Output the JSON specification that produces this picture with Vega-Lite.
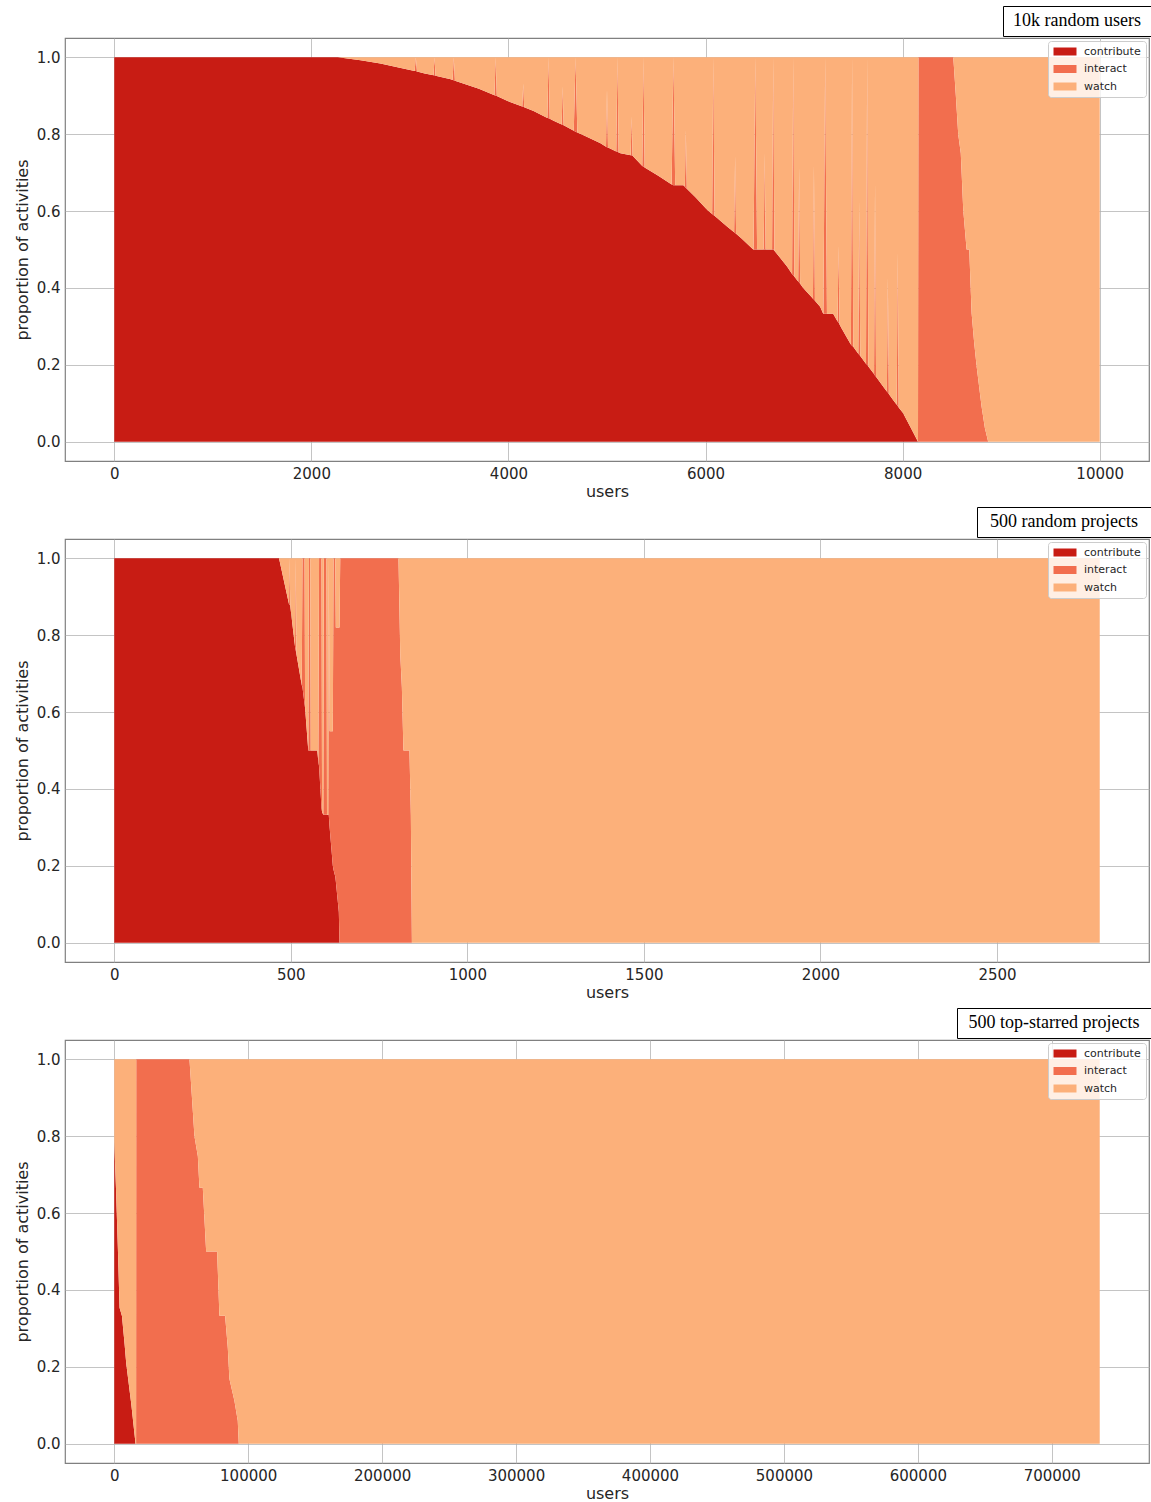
{
  "$schema": "https://vega.github.io/schema/vega-lite/v6.json",
  "padding": {"left": 13, "top": 5, "right": 2, "bottom": 0},
  "background": "white",
  "config": {
    "font": "DejaVu Sans",
    "view": {"stroke": "#808080", "strokeWidth": 1.2},
    "axis": {"domain": false, "ticks": false, "grid": true, "gridColor": "#b0b0b0", "gridOpacity": 0.75, "gridWidth": 1, "labelFont": "DejaVu Sans", "labelFontSize": 15, "labelColor": "#262626", "labelPadding": 5, "titleFont": "DejaVu Sans", "titleFontSize": 16, "titleFontWeight": "normal", "titleColor": "#262626", "zindex": 1},
    "axisY": {"titlePadding": 6},
    "axisX": {"titlePadding": 2},
    "legend": {"orient": "top-right", "offset": 3, "labelFont": "DejaVu Sans", "labelFontSize": 11, "labelColor": "#262626", "symbolType": "M-1,-0.8H3.6V0.8H-1Z", "symbolSize": 100, "symbolStrokeWidth": 0, "symbolOpacity": 1, "labelOffset": 20, "rowPadding": 5.5, "padding": 5, "fillColor": "rgba(255,255,255,0.8)", "strokeColor": "#cccccc", "cornerRadius": 3, "zindex": 2}
  },
  "datasets": {
    "p1": [
      {"x": 0, "contribute": 1, "interact": 0, "watch": 0},
      {"x": 2269, "contribute": 1, "interact": 0, "watch": 0},
      {"x": 2500, "contribute": 0.992, "interact": 0, "watch": 0.008},
      {"x": 2700, "contribute": 0.984, "interact": 0, "watch": 0.016},
      {"x": 2908, "contribute": 0.972, "interact": 0, "watch": 0.028},
      {"x": 3048, "contribute": 0.964, "interact": 0, "watch": 0.036},
      {"x": 3060, "contribute": 0.964, "interact": 0.036, "watch": 0},
      {"x": 3072, "contribute": 0.963, "interact": 0, "watch": 0.037},
      {"x": 3150, "contribute": 0.958, "interact": 0, "watch": 0.042},
      {"x": 3240, "contribute": 0.953, "interact": 0, "watch": 0.047},
      {"x": 3250, "contribute": 0.953, "interact": 0.047, "watch": 0},
      {"x": 3260, "contribute": 0.952, "interact": 0, "watch": 0.048},
      {"x": 3414, "contribute": 0.943, "interact": 0, "watch": 0.057},
      {"x": 3433, "contribute": 0.941, "interact": 0, "watch": 0.059},
      {"x": 3445, "contribute": 0.94, "interact": 0.06, "watch": 0},
      {"x": 3457, "contribute": 0.939, "interact": 0, "watch": 0.061},
      {"x": 3700, "contribute": 0.918, "interact": 0, "watch": 0.082},
      {"x": 3858, "contribute": 0.901, "interact": 0, "watch": 0.099},
      {"x": 3870, "contribute": 0.9, "interact": 0.1, "watch": 0},
      {"x": 3882, "contribute": 0.899, "interact": 0, "watch": 0.101},
      {"x": 4002, "contribute": 0.885, "interact": 0, "watch": 0.115},
      {"x": 4140, "contribute": 0.872, "interact": 0, "watch": 0.128},
      {"x": 4150, "contribute": 0.871, "interact": 0.06, "watch": 0.069},
      {"x": 4160, "contribute": 0.87, "interact": 0, "watch": 0.13},
      {"x": 4255, "contribute": 0.86, "interact": 0, "watch": 0.14},
      {"x": 4395, "contribute": 0.842, "interact": 0, "watch": 0.158},
      {"x": 4407, "contribute": 0.841, "interact": 0.159, "watch": 0},
      {"x": 4419, "contribute": 0.84, "interact": 0, "watch": 0.16},
      {"x": 4458, "contribute": 0.835, "interact": 0, "watch": 0.165},
      {"x": 4540, "contribute": 0.825, "interact": 0, "watch": 0.175},
      {"x": 4550, "contribute": 0.824, "interact": 0.1, "watch": 0.076},
      {"x": 4560, "contribute": 0.823, "interact": 0, "watch": 0.177},
      {"x": 4663, "contribute": 0.809, "interact": 0, "watch": 0.191},
      {"x": 4681, "contribute": 0.806, "interact": 0.194, "watch": 0},
      {"x": 4699, "contribute": 0.804, "interact": 0, "watch": 0.196},
      {"x": 4762, "contribute": 0.797, "interact": 0, "watch": 0.203},
      {"x": 4934, "contribute": 0.776, "interact": 0, "watch": 0.224},
      {"x": 4990, "contribute": 0.767, "interact": 0, "watch": 0.233},
      {"x": 5000, "contribute": 0.766, "interact": 0.15, "watch": 0.084},
      {"x": 5010, "contribute": 0.765, "interact": 0, "watch": 0.235},
      {"x": 5094, "contribute": 0.755, "interact": 0, "watch": 0.245},
      {"x": 5106, "contribute": 0.754, "interact": 0.246, "watch": 0},
      {"x": 5118, "contribute": 0.752, "interact": 0, "watch": 0.248},
      {"x": 5137, "contribute": 0.75, "interact": 0, "watch": 0.25},
      {"x": 5240, "contribute": 0.745, "interact": 0, "watch": 0.255},
      {"x": 5250, "contribute": 0.745, "interact": 0.1, "watch": 0.155},
      {"x": 5260, "contribute": 0.744, "interact": 0, "watch": 0.256},
      {"x": 5358, "contribute": 0.717, "interact": 0, "watch": 0.283},
      {"x": 5370, "contribute": 0.715, "interact": 0.285, "watch": 0},
      {"x": 5382, "contribute": 0.713, "interact": 0, "watch": 0.287},
      {"x": 5520, "contribute": 0.692, "interact": 0, "watch": 0.308},
      {"x": 5656, "contribute": 0.669, "interact": 0, "watch": 0.331},
      {"x": 5674, "contribute": 0.667, "interact": 0.333, "watch": 0},
      {"x": 5692, "contribute": 0.667, "interact": 0, "watch": 0.333},
      {"x": 5775, "contribute": 0.667, "interact": 0, "watch": 0.333},
      {"x": 5790, "contribute": 0.663, "interact": 0, "watch": 0.337},
      {"x": 5800, "contribute": 0.66, "interact": 0.15, "watch": 0.19},
      {"x": 5810, "contribute": 0.658, "interact": 0, "watch": 0.342},
      {"x": 5900, "contribute": 0.635, "interact": 0, "watch": 0.365},
      {"x": 6018, "contribute": 0.603, "interact": 0, "watch": 0.397},
      {"x": 6067, "contribute": 0.592, "interact": 0, "watch": 0.408},
      {"x": 6079, "contribute": 0.59, "interact": 0.41, "watch": 0},
      {"x": 6091, "contribute": 0.588, "interact": 0, "watch": 0.412},
      {"x": 6221, "contribute": 0.559, "interact": 0, "watch": 0.441},
      {"x": 6290, "contribute": 0.545, "interact": 0, "watch": 0.455},
      {"x": 6300, "contribute": 0.543, "interact": 0.2, "watch": 0.257},
      {"x": 6310, "contribute": 0.541, "interact": 0, "watch": 0.459},
      {"x": 6360, "contribute": 0.53, "interact": 0, "watch": 0.47},
      {"x": 6484, "contribute": 0.5, "interact": 0, "watch": 0.5},
      {"x": 6487, "contribute": 0.5, "interact": 0, "watch": 0.5},
      {"x": 6505, "contribute": 0.5, "interact": 0.5, "watch": 0},
      {"x": 6523, "contribute": 0.5, "interact": 0, "watch": 0.5},
      {"x": 6590, "contribute": 0.5, "interact": 0, "watch": 0.5},
      {"x": 6600, "contribute": 0.5, "interact": 0.25, "watch": 0.25},
      {"x": 6610, "contribute": 0.5, "interact": 0, "watch": 0.5},
      {"x": 6675, "contribute": 0.5, "interact": 0, "watch": 0.5},
      {"x": 6687, "contribute": 0.5, "interact": 0.5, "watch": 0},
      {"x": 6699, "contribute": 0.497, "interact": 0, "watch": 0.503},
      {"x": 6829, "contribute": 0.455, "interact": 0, "watch": 0.545},
      {"x": 6878, "contribute": 0.436, "interact": 0, "watch": 0.564},
      {"x": 6890, "contribute": 0.433, "interact": 0.567, "watch": 0},
      {"x": 6902, "contribute": 0.429, "interact": 0, "watch": 0.571},
      {"x": 6940, "contribute": 0.417, "interact": 0, "watch": 0.583},
      {"x": 6950, "contribute": 0.414, "interact": 0.3, "watch": 0.286},
      {"x": 6960, "contribute": 0.411, "interact": 0, "watch": 0.589},
      {"x": 6991, "contribute": 0.4, "interact": 0, "watch": 0.6},
      {"x": 7080, "contribute": 0.375, "interact": 0, "watch": 0.625},
      {"x": 7090, "contribute": 0.372, "interact": 0, "watch": 0.628},
      {"x": 7100, "contribute": 0.37, "interact": 0.35, "watch": 0.28},
      {"x": 7110, "contribute": 0.367, "interact": 0, "watch": 0.633},
      {"x": 7163, "contribute": 0.351, "interact": 0, "watch": 0.649},
      {"x": 7194, "contribute": 0.333, "interact": 0, "watch": 0.667},
      {"x": 7196, "contribute": 0.333, "interact": 0, "watch": 0.667},
      {"x": 7214, "contribute": 0.333, "interact": 0.667, "watch": 0},
      {"x": 7232, "contribute": 0.333, "interact": 0, "watch": 0.667},
      {"x": 7295, "contribute": 0.333, "interact": 0, "watch": 0.667},
      {"x": 7340, "contribute": 0.313, "interact": 0, "watch": 0.687},
      {"x": 7350, "contribute": 0.31, "interact": 0.2, "watch": 0.49},
      {"x": 7360, "contribute": 0.305, "interact": 0, "watch": 0.695},
      {"x": 7380, "contribute": 0.295, "interact": 0, "watch": 0.705},
      {"x": 7467, "contribute": 0.256, "interact": 0, "watch": 0.744},
      {"x": 7475, "contribute": 0.253, "interact": 0, "watch": 0.747},
      {"x": 7487, "contribute": 0.25, "interact": 0.75, "watch": 0},
      {"x": 7499, "contribute": 0.247, "interact": 0, "watch": 0.753},
      {"x": 7550, "contribute": 0.229, "interact": 0, "watch": 0.771},
      {"x": 7560, "contribute": 0.226, "interact": 0.4, "watch": 0.374},
      {"x": 7570, "contribute": 0.223, "interact": 0, "watch": 0.777},
      {"x": 7628, "contribute": 0.203, "interact": 0, "watch": 0.797},
      {"x": 7640, "contribute": 0.2, "interact": 0.8, "watch": 0},
      {"x": 7652, "contribute": 0.196, "interact": 0, "watch": 0.804},
      {"x": 7710, "contribute": 0.176, "interact": 0, "watch": 0.824},
      {"x": 7720, "contribute": 0.172, "interact": 0.5, "watch": 0.328},
      {"x": 7730, "contribute": 0.169, "interact": 0, "watch": 0.831},
      {"x": 7802, "contribute": 0.144, "interact": 0, "watch": 0.856},
      {"x": 7840, "contribute": 0.131, "interact": 0, "watch": 0.869},
      {"x": 7850, "contribute": 0.128, "interact": 0.3, "watch": 0.572},
      {"x": 7860, "contribute": 0.124, "interact": 0, "watch": 0.876},
      {"x": 7900, "contribute": 0.11, "interact": 0, "watch": 0.89},
      {"x": 7940, "contribute": 0.096, "interact": 0, "watch": 0.904},
      {"x": 7950, "contribute": 0.093, "interact": 0.4, "watch": 0.507},
      {"x": 7960, "contribute": 0.089, "interact": 0, "watch": 0.911},
      {"x": 8004, "contribute": 0.075, "interact": 0, "watch": 0.925},
      {"x": 8080, "contribute": 0.038, "interact": 0, "watch": 0.962},
      {"x": 8156, "contribute": 0, "interact": 0, "watch": 1},
      {"x": 8160, "contribute": 0, "interact": 1, "watch": 0},
      {"x": 8514, "contribute": 0, "interact": 1, "watch": 0},
      {"x": 8540, "contribute": 0, "interact": 0.9, "watch": 0.1},
      {"x": 8564, "contribute": 0, "interact": 0.8, "watch": 0.2},
      {"x": 8590, "contribute": 0, "interact": 0.75, "watch": 0.25},
      {"x": 8615, "contribute": 0, "interact": 0.603, "watch": 0.397},
      {"x": 8649, "contribute": 0, "interact": 0.5, "watch": 0.5},
      {"x": 8676, "contribute": 0, "interact": 0.5, "watch": 0.5},
      {"x": 8700, "contribute": 0, "interact": 0.334, "watch": 0.666},
      {"x": 8725, "contribute": 0, "interact": 0.26, "watch": 0.74},
      {"x": 8751, "contribute": 0, "interact": 0.196, "watch": 0.804},
      {"x": 8801, "contribute": 0, "interact": 0.092, "watch": 0.908},
      {"x": 8835, "contribute": 0, "interact": 0.035, "watch": 0.965},
      {"x": 8868, "contribute": 0, "interact": 0, "watch": 1},
      {"x": 10000, "contribute": 0, "interact": 0, "watch": 1}
    ],
    "p2": [
      {"x": 0, "contribute": 1, "interact": 0, "watch": 0},
      {"x": 466.6, "contribute": 1, "interact": 0, "watch": 0},
      {"x": 495, "contribute": 0.88, "interact": 0, "watch": 0.12},
      {"x": 496.5, "contribute": 0.88, "interact": 0.12, "watch": 0},
      {"x": 498.5, "contribute": 0.875, "interact": 0, "watch": 0.125},
      {"x": 512, "contribute": 0.77, "interact": 0, "watch": 0.23},
      {"x": 514, "contribute": 0.76, "interact": 0.24, "watch": 0},
      {"x": 516, "contribute": 0.75, "interact": 0, "watch": 0.25},
      {"x": 531, "contribute": 0.67, "interact": 0, "watch": 0.33},
      {"x": 533, "contribute": 0.665, "interact": 0.335, "watch": 0},
      {"x": 539, "contribute": 0.62, "interact": 0.38, "watch": 0},
      {"x": 540.5, "contribute": 0.61, "interact": 0, "watch": 0.39},
      {"x": 549.5, "contribute": 0.5, "interact": 0, "watch": 0.5},
      {"x": 551.5, "contribute": 0.5, "interact": 0.5, "watch": 0},
      {"x": 555, "contribute": 0.5, "interact": 0.5, "watch": 0},
      {"x": 556.5, "contribute": 0.5, "interact": 0, "watch": 0.5},
      {"x": 575, "contribute": 0.5, "interact": 0, "watch": 0.5},
      {"x": 578, "contribute": 0.47, "interact": 0, "watch": 0.53},
      {"x": 580, "contribute": 0.46, "interact": 0.54, "watch": 0},
      {"x": 587, "contribute": 0.35, "interact": 0.65, "watch": 0},
      {"x": 588.5, "contribute": 0.34, "interact": 0, "watch": 0.66},
      {"x": 592, "contribute": 0.333, "interact": 0, "watch": 0.667},
      {"x": 593.5, "contribute": 0.333, "interact": 0.667, "watch": 0},
      {"x": 601, "contribute": 0.333, "interact": 0.667, "watch": 0},
      {"x": 602.5, "contribute": 0.333, "interact": 0, "watch": 0.667},
      {"x": 606, "contribute": 0.333, "interact": 0, "watch": 0.667},
      {"x": 607.5, "contribute": 0.333, "interact": 0.667, "watch": 0},
      {"x": 610, "contribute": 0.3, "interact": 0.25, "watch": 0.45},
      {"x": 619, "contribute": 0.2, "interact": 0.35, "watch": 0.45},
      {"x": 621, "contribute": 0.19, "interact": 0.81, "watch": 0},
      {"x": 626, "contribute": 0.172, "interact": 0.828, "watch": 0},
      {"x": 627.5, "contribute": 0.16, "interact": 0.66, "watch": 0.18},
      {"x": 636, "contribute": 0.08, "interact": 0.74, "watch": 0.18},
      {"x": 638, "contribute": 0, "interact": 0.82, "watch": 0.18},
      {"x": 640, "contribute": 0, "interact": 1, "watch": 0},
      {"x": 805, "contribute": 0, "interact": 1, "watch": 0},
      {"x": 810, "contribute": 0, "interact": 0.75, "watch": 0.25},
      {"x": 814.5, "contribute": 0, "interact": 0.666, "watch": 0.334},
      {"x": 819, "contribute": 0, "interact": 0.5, "watch": 0.5},
      {"x": 836, "contribute": 0, "interact": 0.5, "watch": 0.5},
      {"x": 840, "contribute": 0, "interact": 0.333, "watch": 0.667},
      {"x": 843, "contribute": 0, "interact": 0, "watch": 1},
      {"x": 2791, "contribute": 0, "interact": 0, "watch": 1}
    ],
    "p3": [
      {"x": 0, "contribute": 0.787, "interact": 0, "watch": 0.213},
      {"x": 1267, "contribute": 0.666, "interact": 0, "watch": 0.334},
      {"x": 2760, "contribute": 0.5, "interact": 0, "watch": 0.5},
      {"x": 3950, "contribute": 0.354, "interact": 0, "watch": 0.646},
      {"x": 5740, "contribute": 0.332, "interact": 0, "watch": 0.668},
      {"x": 7680, "contribute": 0.26, "interact": 0, "watch": 0.74},
      {"x": 8950, "contribute": 0.208, "interact": 0, "watch": 0.792},
      {"x": 12670, "contribute": 0.104, "interact": 0, "watch": 0.896},
      {"x": 15880, "contribute": 0, "interact": 0, "watch": 1},
      {"x": 16300, "contribute": 0, "interact": 0, "watch": 1},
      {"x": 16400, "contribute": 0, "interact": 1, "watch": 0},
      {"x": 56150, "contribute": 0, "interact": 1, "watch": 0},
      {"x": 59870, "contribute": 0, "interact": 0.8, "watch": 0.2},
      {"x": 62400, "contribute": 0, "interact": 0.748, "watch": 0.252},
      {"x": 63600, "contribute": 0, "interact": 0.666, "watch": 0.334},
      {"x": 66100, "contribute": 0, "interact": 0.666, "watch": 0.334},
      {"x": 68600, "contribute": 0, "interact": 0.5, "watch": 0.5},
      {"x": 76800, "contribute": 0, "interact": 0.5, "watch": 0.5},
      {"x": 78500, "contribute": 0, "interact": 0.333, "watch": 0.667},
      {"x": 82750, "contribute": 0, "interact": 0.333, "watch": 0.667},
      {"x": 84760, "contribute": 0, "interact": 0.25, "watch": 0.75},
      {"x": 85950, "contribute": 0, "interact": 0.169, "watch": 0.831},
      {"x": 89700, "contribute": 0, "interact": 0.112, "watch": 0.888},
      {"x": 92200, "contribute": 0, "interact": 0.06, "watch": 0.94},
      {"x": 92960, "contribute": 0, "interact": 0, "watch": 1},
      {"x": 735800, "contribute": 0, "interact": 0, "watch": 1}
    ]
  },
  "spacing": 6,
  "vconcat": [
    {
      "spacing": 0,
      "resolve": {"scale": {"color": "independent"}, "legend": {"color": "independent"}},
      "vconcat": [
        {
          "spacing": 0,
          "hconcat": [
            {"width": 937, "height": 30, "data": {"values": []}, "mark": "point", "view": {"stroke": null}},
            {"width": 148, "height": 30, "data": {"values": [{"label": "10k random users"}]}, "mark": {"type": "text", "font": "Liberation Serif", "fontSize": 18, "color": "black"}, "encoding": {"text": {"field": "label"}}, "view": {"stroke": "black", "strokeWidth": 1}}
          ]
        },
        {
          "width": 1084, "height": 423,
          "data": {"name": "p1"},
          "transform": [{"fold": ["contribute", "interact", "watch"], "as": ["activity", "proportion"]}],
          "mark": {"type": "area", "interpolate": "linear", "strokeWidth": 0},
          "encoding": {
            "x": {"field": "x", "type": "quantitative", "scale": {"domain": [-500, 10500], "nice": false, "zero": false}, "axis": {"title": "users", "values": [0, 2000, 4000, 6000, 8000, 10000], "format": "d"}},
            "y": {"field": "proportion", "type": "quantitative", "stack": "zero", "scale": {"domain": [-0.05, 1.05], "nice": false, "zero": false}, "axis": {"title": "proportion of activities", "values": [0, 0.2, 0.4, 0.6, 0.8, 1.0], "format": ".1f"}},
            "color": {"field": "activity", "type": "nominal", "scale": {"domain": ["contribute", "interact", "watch"], "range": ["#c81c14", "#f26e4e", "#fcb07a"]}, "legend": {"title": null}},
            "order": {"field": "activity", "sort": "ascending"}
          }
        }
      ]
    },
    {
      "spacing": 0,
      "resolve": {"scale": {"color": "independent"}, "legend": {"color": "independent"}},
      "vconcat": [
        {
          "spacing": 0,
          "hconcat": [
            {"width": 911, "height": 30, "data": {"values": []}, "mark": "point", "view": {"stroke": null}},
            {"width": 174, "height": 30, "data": {"values": [{"label": "500 random projects"}]}, "mark": {"type": "text", "font": "Liberation Serif", "fontSize": 18, "color": "black"}, "encoding": {"text": {"field": "label"}}, "view": {"stroke": "black", "strokeWidth": 1}}
          ]
        },
        {
          "width": 1084, "height": 423,
          "data": {"name": "p2"},
          "transform": [{"fold": ["contribute", "interact", "watch"], "as": ["activity", "proportion"]}],
          "mark": {"type": "area", "interpolate": "linear", "strokeWidth": 0},
          "encoding": {
            "x": {"field": "x", "type": "quantitative", "scale": {"domain": [-139.5, 2930.5], "nice": false, "zero": false}, "axis": {"title": "users", "values": [0, 500, 1000, 1500, 2000, 2500], "format": "d"}},
            "y": {"field": "proportion", "type": "quantitative", "stack": "zero", "scale": {"domain": [-0.05, 1.05], "nice": false, "zero": false}, "axis": {"title": "proportion of activities", "values": [0, 0.2, 0.4, 0.6, 0.8, 1.0], "format": ".1f"}},
            "color": {"field": "activity", "type": "nominal", "scale": {"domain": ["contribute", "interact", "watch"], "range": ["#c81c14", "#f26e4e", "#fcb07a"]}, "legend": {"title": null}},
            "order": {"field": "activity", "sort": "ascending"}
          }
        }
      ]
    },
    {
      "spacing": 0,
      "resolve": {"scale": {"color": "independent"}, "legend": {"color": "independent"}},
      "vconcat": [
        {
          "spacing": 0,
          "hconcat": [
            {"width": 891, "height": 30, "data": {"values": []}, "mark": "point", "view": {"stroke": null}},
            {"width": 194, "height": 30, "data": {"values": [{"label": "500 top-starred projects"}]}, "mark": {"type": "text", "font": "Liberation Serif", "fontSize": 18, "color": "black"}, "encoding": {"text": {"field": "label"}}, "view": {"stroke": "black", "strokeWidth": 1}}
          ]
        },
        {
          "width": 1084, "height": 423,
          "data": {"name": "p3"},
          "transform": [{"fold": ["contribute", "interact", "watch"], "as": ["activity", "proportion"]}],
          "mark": {"type": "area", "interpolate": "linear", "strokeWidth": 0},
          "encoding": {
            "x": {"field": "x", "type": "quantitative", "scale": {"domain": [-36790, 772590], "nice": false, "zero": false}, "axis": {"title": "users", "values": [0, 100000, 200000, 300000, 400000, 500000, 600000, 700000], "format": "d"}},
            "y": {"field": "proportion", "type": "quantitative", "stack": "zero", "scale": {"domain": [-0.05, 1.05], "nice": false, "zero": false}, "axis": {"title": "proportion of activities", "values": [0, 0.2, 0.4, 0.6, 0.8, 1.0], "format": ".1f"}},
            "color": {"field": "activity", "type": "nominal", "scale": {"domain": ["contribute", "interact", "watch"], "range": ["#c81c14", "#f26e4e", "#fcb07a"]}, "legend": {"title": null}},
            "order": {"field": "activity", "sort": "ascending"}
          }
        }
      ]
    }
  ],
  "resolve": {"scale": {"color": "independent"}, "legend": {"color": "independent"}}
}
